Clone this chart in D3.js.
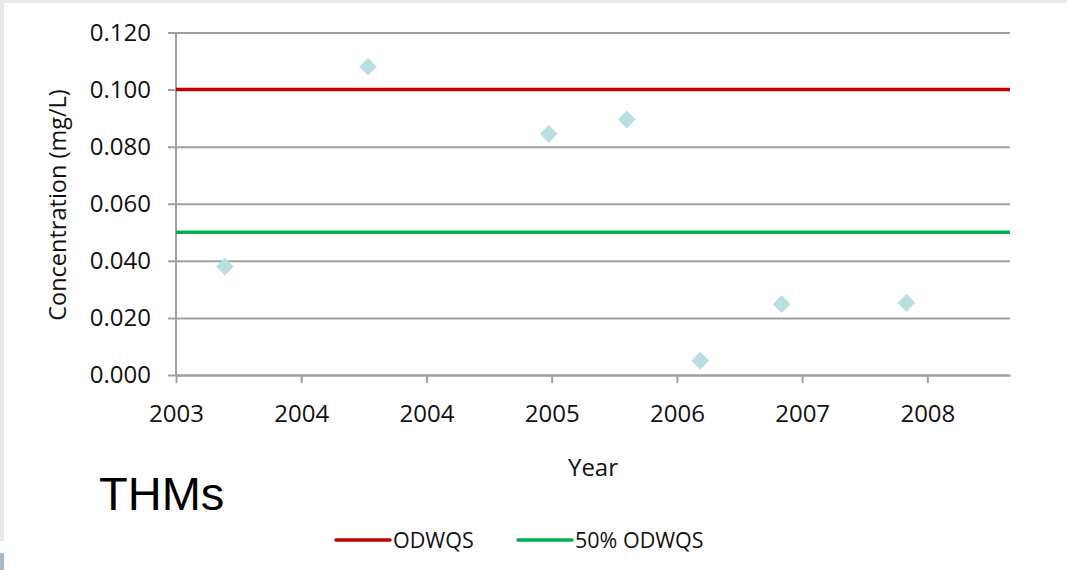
<!DOCTYPE html>
<html>
<head>
<meta charset="utf-8">
<script src="https://cdn.jsdelivr.net/npm/d3@7"></script>
<style>
  html, body { margin: 0; padding: 0; background: #fff; }
  svg { display: block; }
</style>
</head>
<body>
<svg id="chart" width="1067" height="570"></svg>
<script>
// THMs sample dates and concentrations (mg/L)
const sampleDates = ["2003-07-27", "2004-07-04", "2005-09-10", "2006-03-16", "2006-09-08", "2007-03-22", "2008-01-15"];
const thmValues = [0.038, 0.108, 0.0845, 0.0895, 0.005, 0.0248, 0.0253];

// Guideline levels
const guideNames = ["ODWQS", "50% ODWQS"];
const guideValues = [0.100, 0.050];
const guideColors = ["#C00000", "#00B050"];

// Axis ticks
const xTickDates = ["2003-04-01", "2004-01-26", "2004-11-21", "2005-09-17", "2006-07-14", "2007-05-10", "2008-03-05"];
const xTickLabels = ["2003", "2004", "2004", "2005", "2006", "2007", "2008"];
const yTickValues = [0, 0.02, 0.04, 0.06, 0.08, 0.10, 0.12];

const parse = d3.timeParse("%Y-%m-%d");
const svg = d3.select("#chart");

// page frame
svg.append("rect").attr("x", 0).attr("y", 0).attr("width", 1067).attr("height", 3).attr("fill", "#E6EAEC");
svg.append("rect").attr("x", 0).attr("y", 0).attr("width", 4).attr("height", 541).attr("fill", "#E6EAEC");
svg.append("rect").attr("x", 0).attr("y", 553).attr("width", 4).attr("height", 17).attr("fill", "#AAB9C8");

const plot = { left: 176, right: 1010, top: 32.5, bottom: 375 };

const x = d3.scaleTime()
  .domain([parse("2003-04-01"), d3.timeDay.offset(parse("2003-04-01"), 1998)])
  .range([plot.left, plot.right]);
const y = d3.scaleLinear().domain([0, 0.12]).range([plot.bottom, plot.top]);

const gridColor = "#A0A0A0";
const tickFont = "'Open Sans', 'Noto Sans', sans-serif";
const tickSize = "24px";

// horizontal gridlines / y axis
const yAxis = d3.axisLeft(y)
  .tickValues(yTickValues)
  .tickFormat(d3.format(".3f"))
  .tickSizeOuter(0);
const gy = svg.append("g")
  .attr("transform", `translate(${plot.right},0)`)
  .call(yAxis);
gy.select(".domain").remove();
gy.selectAll(".tick line")
  .attr("x1", 0)
  .attr("x2", -(plot.right - plot.left) - 8)
  .attr("stroke", gridColor).attr("stroke-width", 2);
gy.selectAll(".tick text")
  .attr("x", -(plot.right - plot.left) - 25)
  .attr("fill", "#111")
  .style("font-family", tickFont)
  .style("font-size", tickSize);

// vertical axis line
svg.append("line")
  .attr("x1", plot.left).attr("x2", plot.left)
  .attr("y1", plot.top).attr("y2", plot.bottom)
  .attr("stroke", gridColor).attr("stroke-width", 2);

// x axis
const xTicks = xTickDates.map(parse);
const xAxis = d3.axisBottom(x)
  .tickValues(xTicks)
  .tickFormat((d, i) => xTickLabels[i])
  .tickSize(8)
  .tickSizeOuter(0)
  .tickPadding(22);
const gx = svg.append("g")
  .attr("transform", `translate(0,${plot.bottom})`)
  .call(xAxis);
gx.select(".domain").attr("stroke", gridColor).attr("stroke-width", 2);
gx.selectAll(".tick line").attr("stroke", gridColor).attr("stroke-width", 2);
gx.selectAll(".tick text")
  .attr("fill", "#111")
  .style("font-family", tickFont)
  .style("font-size", tickSize);

// guideline lines
svg.append("g").selectAll("line")
  .data(guideValues)
  .join("line")
  .attr("x1", plot.left).attr("x2", plot.right)
  .attr("y1", d => y(d)).attr("y2", d => y(d))
  .attr("stroke", (d, i) => guideColors[i])
  .attr("stroke-width", 3.5);

// sample diamonds
const pts = sampleDates.map((d, i) => ({ date: parse(d), value: thmValues[i] }));
svg.append("g").selectAll("path")
  .data(pts)
  .join("path")
  .attr("d", d3.symbol().type(d3.symbolDiamond2).size(200))
  .attr("transform", d => `translate(${x(d.date)},${y(d.value)})`)
  .attr("fill", "#B7DEE1");

// axis titles
svg.append("text")
  .attr("transform", "translate(66,205) rotate(-90)")
  .attr("text-anchor", "middle")
  .attr("fill", "#111")
  .style("font-family", tickFont)
  .style("font-size", "23.5px")
  .text("Concentration (mg/L)");

svg.append("text")
  .attr("x", 593).attr("y", 476)
  .attr("text-anchor", "middle")
  .attr("fill", "#111")
  .style("font-family", tickFont)
  .style("font-size", tickSize)
  .text("Year");

svg.append("text")
  .attr("x", 99).attr("y", 510)
  .attr("fill", "#000")
  .style("font-family", "'Liberation Sans', Arial, sans-serif")
  .style("font-size", "47px")
  .text("THMs");

// legend
const legendX = [336, 518];
const lg = svg.append("g").selectAll("g")
  .data(guideNames)
  .join("g")
  .attr("transform", (d, i) => `translate(${legendX[i]},540)`);
lg.append("line")
  .attr("x1", 0).attr("x2", 54)
  .attr("y1", 0).attr("y2", 0)
  .attr("stroke", (d, i) => guideColors[i])
  .attr("stroke-width", 3.5)
  .attr("stroke-linecap", "round");
lg.append("text")
  .attr("x", 57).attr("y", 8)
  .attr("fill", "#111")
  .style("font-family", tickFont)
  .style("font-size", "21.5px")
  .text(d => d);
</script>
</body>
</html>
